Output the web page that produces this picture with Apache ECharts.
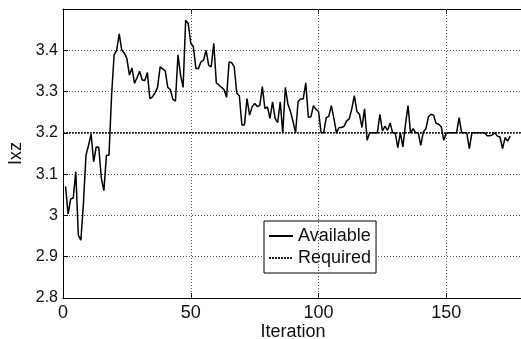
<!DOCTYPE html>
<html>
<head>
<meta charset="utf-8">
<script src="https://cdn.jsdelivr.net/npm/echarts@6/dist/echarts.min.js"></script>
<style>html,body{margin:0;padding:0;background:#fff;}#c{width:521px;height:339px;}</style>
</head>
<body>
<div id="c"></div>
<script>
// Available Ixz per iteration (iterations 1..175)
const available = [
 3.07, 3.003, 3.04, 3.042, 3.106, 2.952, 2.94, 3.03, 3.146, 3.17,
 3.197, 3.13, 3.166, 3.165, 3.09, 3.06, 3.146, 3.146, 3.29, 3.389,
 3.40, 3.44, 3.40, 3.393, 3.38, 3.34, 3.357, 3.32, 3.334, 3.349,
 3.328, 3.327, 3.346, 3.283, 3.287, 3.297, 3.31, 3.36, 3.355, 3.35,
 3.31, 3.305, 3.281, 3.277, 3.389, 3.34, 3.31, 3.473, 3.465, 3.417,
 3.409, 3.356, 3.356, 3.372, 3.376, 3.40, 3.364, 3.36, 3.417, 3.321,
 3.316, 3.31, 3.305, 3.286, 3.372, 3.37, 3.36, 3.296, 3.29, 3.219,
 3.219, 3.283, 3.243, 3.263, 3.271, 3.264, 3.266, 3.312, 3.259, 3.263,
 3.235, 3.275, 3.235, 3.225, 3.275, 3.2, 3.31, 3.27, 3.252, 3.228,
 3.2, 3.276, 3.282, 3.282, 3.321, 3.238, 3.239, 3.266, 3.257, 3.252,
 3.2, 3.2, 3.237, 3.24, 3.266, 3.235, 3.2, 3.213, 3.213, 3.216,
 3.229, 3.234, 3.258, 3.29, 3.252, 3.245, 3.213, 3.258, 3.182, 3.2,
 3.2, 3.2, 3.2, 3.245, 3.205, 3.216, 3.206, 3.224, 3.2, 3.2,
 3.164, 3.2, 3.166, 3.22, 3.266, 3.2, 3.21, 3.2, 3.2, 3.17,
 3.202, 3.21, 3.239, 3.245, 3.243, 3.223, 3.221, 3.215, 3.182, 3.2,
 3.2, 3.2, 3.2, 3.2, 3.237, 3.2, 3.2, 3.2, 3.162, 3.2,
 3.2, 3.2, 3.2, 3.2, 3.2, 3.193, 3.193, 3.195, 3.2, 3.192,
 3.19, 3.162, 3.189, 3.18, 3.192
];
const firstIteration = 1;
const requiredValue = 3.2;
const requiredSpan = [0, 180];
const xTicks = [0, 50, 100, 150];
const yTicks = [2.8, 2.9, 3.0, 3.1, 3.2, 3.3, 3.4];
const legendNames = ['Available', 'Required'];
const xName = 'Iteration';
const yName = 'Ixz';

const availableData = available.map((v, i) => [firstIteration + i, v]);
const requiredData = requiredSpan.map(x => [x, requiredValue]);

const font = "'Liberation Sans', Arial, Helvetica, sans-serif";
const gridStyle = { color: '#555', type: [1, 2], width: 1 };

const chart = echarts.init(document.getElementById('c'), null, { renderer: 'canvas' });
chart.setOption({
  animation: false,
  backgroundColor: '#fff',
  grid: { left: 63, top: 9, width: 460, height: 289, show: false,
    containLabel: false, outerBoundsMode: 'none' },
  legend: {
    data: legendNames,
    orient: 'vertical',
    left: 264, top: 221,
    padding: [6, 5, 6, 4],
    itemGap: 4,
    itemWidth: 24, itemHeight: 14,
    backgroundColor: '#fff',
    borderColor: '#000', borderWidth: 1, borderRadius: 0,
    itemStyle: { opacity: 0 },
    textStyle: { fontFamily: font, fontSize: 18, color: '#111' }
  },
  xAxis: [{
    type: 'value', min: 0, max: 180, interval: 50,
    name: xName, nameLocation: 'middle', nameGap: 25, nameMoveOverlap: false,
    nameTextStyle: { fontFamily: font, fontSize: 18, color: '#111' },
    axisLine: { show: true, lineStyle: { color: '#000', width: 1 } },
    axisTick: { show: true, inside: true, length: 5, lineStyle: { color: '#000' } },
    axisLabel: { fontFamily: font, fontSize: 18, color: '#111', margin: 6,
      formatter: v => xTicks.includes(v) ? String(v) : '' },
    splitLine: { show: false }
  }, {
    type: 'value', min: 0, max: 180, interval: 50, position: 'top',
    axisLine: { show: true, lineStyle: { color: '#000', width: 1 } },
    axisTick: { show: true, inside: true, length: 5, lineStyle: { color: '#000' } },
    axisLabel: { show: false }, splitLine: { show: false }
  }],
  yAxis: [{
    type: 'value', min: 2.8, max: 3.5, interval: 0.1,
    name: yName, nameLocation: 'middle', nameGap: 37, nameRotate: 90,
    nameTextStyle: { fontFamily: font, fontSize: 18, color: '#111' },
    axisLine: { show: true, lineStyle: { color: '#000', width: 1 } },
    axisTick: { show: true, inside: true, length: 5, lineStyle: { color: '#000' } },
    axisLabel: { fontFamily: font, fontSize: 16, color: '#111', margin: 5,
      formatter: v => { const r = Math.round(v * 10) / 10; return yTicks.some(t => Math.abs(t - r) < 1e-6) ? String(r) : ''; } },
    splitLine: { show: true, lineStyle: gridStyle }
  }],
  series: [{
    name: legendNames[0], type: 'line', data: availableData,
    symbol: 'none', xAxisIndex: 0, yAxisIndex: 0, z: 3,
    lineStyle: { color: '#000', width: 1.5 },
    itemStyle: { color: '#000' },
    markLine: {
      silent: true, symbol: 'none', label: { show: false },
      lineStyle: gridStyle,
      data: xTicks.slice(1).map(x => ({ xAxis: x }))
    }
  }, {
    name: legendNames[1], type: 'line', data: requiredData,
    symbol: 'none', xAxisIndex: 0, yAxisIndex: 0, z: 2,
    lineStyle: { color: '#222', width: 1.5, type: [2, 1] },
    itemStyle: { color: '#222' }
  }]
});
</script>
</body>
</html>
